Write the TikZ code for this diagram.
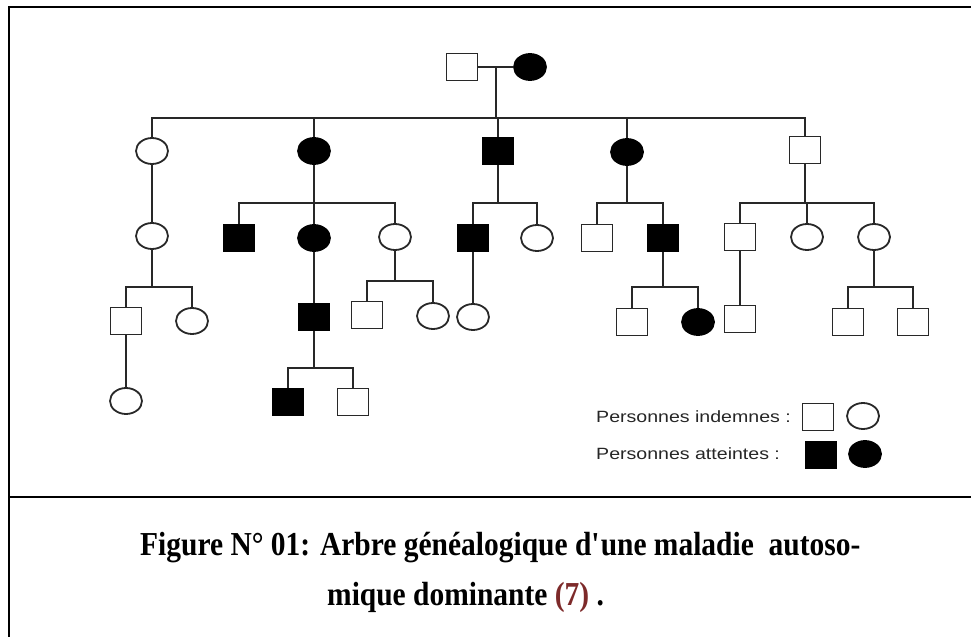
\documentclass[tikz,border=0pt]{standalone}
\usepackage{fontspec}
\setmainfont{Liberation Serif}
\newfontfamily\legendfont[FakeStretch=1.2]{Liberation Sans}
\newfontfamily\captionfont[FakeStretch=0.88]{Liberation Serif}
\usetikzlibrary{shapes.geometric}
\definecolor{refred}{RGB}{125,42,42}
\definecolor{linegray}{RGB}{40,40,40}
\tikzset{
  person/.style={draw=linegray, line width=1.8pt, inner sep=0pt, fill=white},
  male/.style={person, rectangle, minimum width=31pt, minimum height=27pt},
  female/.style={person, ellipse, minimum width=32pt, minimum height=26pt},
  aff/.style={fill=black, draw=black},
  link/.style={draw=linegray, line width=1.8pt},
  frame/.style={line width=2.6pt, black},
  legendtxt/.style={font=\legendfont\fontsize{16.3}{18}\selectfont, text=black!85, anchor=west, inner sep=0pt},
  captxt/.style={font=\captionfont\bfseries\fontsize{33.5}{38}\selectfont, anchor=west, inner sep=0pt}
}
\begin{document}
\begin{tikzpicture}[x=1pt, y=-1pt]
\useasboundingbox (0,0) rectangle (971,637);

% outer frame and caption divider
\draw[frame] (971,7) -- (9,7) -- (9,637);
\draw[frame] (9,497) -- (971,497);

% generation I
\node[male] (I1) at (462,67) {};
\node[female, aff] (I2) at (530,67) {};
\coordinate (m1) at (496,67);
\coordinate (b1) at (496,118);

% generation II
\node[female] (II1) at (152,151) {};
\node[female, aff] (II2) at (314,151) {};
\node[male, aff] (II3) at (498,151) {};
\node[female, aff] (II4) at (627,152) {};
\node[male] (II5) at (805,150) {};

% generation III
\node[female] (III1) at (152,236) {};
\node[male, aff] (III2) at (239,238) {};
\node[female, aff] (III3) at (314,238) {};
\node[female] (III4) at (395,237) {};
\node[male, aff] (III5) at (473,238) {};
\node[female] (III6) at (537,238) {};
\node[male] (III7) at (597,238) {};
\node[male, aff] (III8) at (663,238) {};
\node[male] (III9) at (740,237) {};
\node[female] (III10) at (807,237) {};
\node[female] (III11) at (874,237) {};

% generation IV
\node[male] (IV1) at (126,321) {};
\node[female] (IV2) at (192,321) {};
\node[male, aff] (IV3) at (314,317) {};
\node[male] (IV4) at (367,315) {};
\node[female] (IV5) at (433,316) {};
\node[female] (IV6) at (473,317) {};
\node[male] (IV7) at (632,322) {};
\node[female, aff] (IV8) at (698,322) {};
\node[male] (IV9) at (740,319) {};
\node[male] (IV10) at (848,322) {};
\node[male] (IV11) at (913,322) {};

% generation V
\node[female] (V1) at (126,401) {};
\node[male, aff] (V2) at (288,402) {};
\node[male] (V3) at (353,402) {};

% sibship bars
\coordinate (s1) at (152,287);
\coordinate (s2) at (314,203);
\coordinate (s3) at (314,368);
\coordinate (s4) at (395,281);
\coordinate (s5) at (498,203);
\coordinate (s6) at (627,203);
\coordinate (s7) at (663,287);
\coordinate (s8) at (805,203);
\coordinate (s9) at (874,287);

% couple and first sibship
\draw[link] (I1.east) -- (I2.west);
\draw[link] (m1) -- (b1);
\foreach \c in {II1,II2,II3,II4,II5} \draw[link] (b1) -| (\c.north);

% direct descents
\draw[link] (II1.south) -- (III1.north);
\draw[link] (IV1.south) -- (V1.north);
\draw[link] (III3.south) -- (IV3.north);
\draw[link] (III5.south) -- (IV6.north);
\draw[link] (III9.south) -- (IV9.north);

% branching descents
\draw[link] (III1.south) -- (s1);
\foreach \c in {IV1,IV2} \draw[link] (s1) -| (\c.north);
\draw[link] (II2.south) -- (s2);
\foreach \c in {III2,III3,III4} \draw[link] (s2) -| (\c.north);
\draw[link] (IV3.south) -- (s3);
\foreach \c in {V2,V3} \draw[link] (s3) -| (\c.north);
\draw[link] (III4.south) -- (s4);
\foreach \c in {IV4,IV5} \draw[link] (s4) -| (\c.north);
\draw[link] (II3.south) -- (s5);
\foreach \c in {III5,III6} \draw[link] (s5) -| (\c.north);
\draw[link] (II4.south) -- (s6);
\foreach \c in {III7,III8} \draw[link] (s6) -| (\c.north);
\draw[link] (III8.south) -- (s7);
\foreach \c in {IV7,IV8} \draw[link] (s7) -| (\c.north);
\draw[link] (II5.south) -- (s8);
\foreach \c in {III9,III10,III11} \draw[link] (s8) -| (\c.north);
\draw[link] (III11.south) -- (s9);
\foreach \c in {IV10,IV11} \draw[link] (s9) -| (\c.north);

% legend
\node[legendtxt] (L1t) at (596,417) {Personnes indemnes :};
\node[male] (L1a) at (818,417) {};
\node[female] (L1b) at (863,416) {};
\node[legendtxt] (L2t) at (596,454) {Personnes atteintes :};
\node[male, aff] (L2a) at (821,455) {};
\node[female, aff] (L2b) at (865,454) {};

% caption
\node[captxt] (cap1) at (140,548) {Figure N° 01: Arbre généalogique d\textquotesingle une maladie\ \ autoso-};
\node[captxt] (cap2) at (327,597) {mique dominante \textcolor{refred}{(7)} .};
\end{tikzpicture}
\end{document}
